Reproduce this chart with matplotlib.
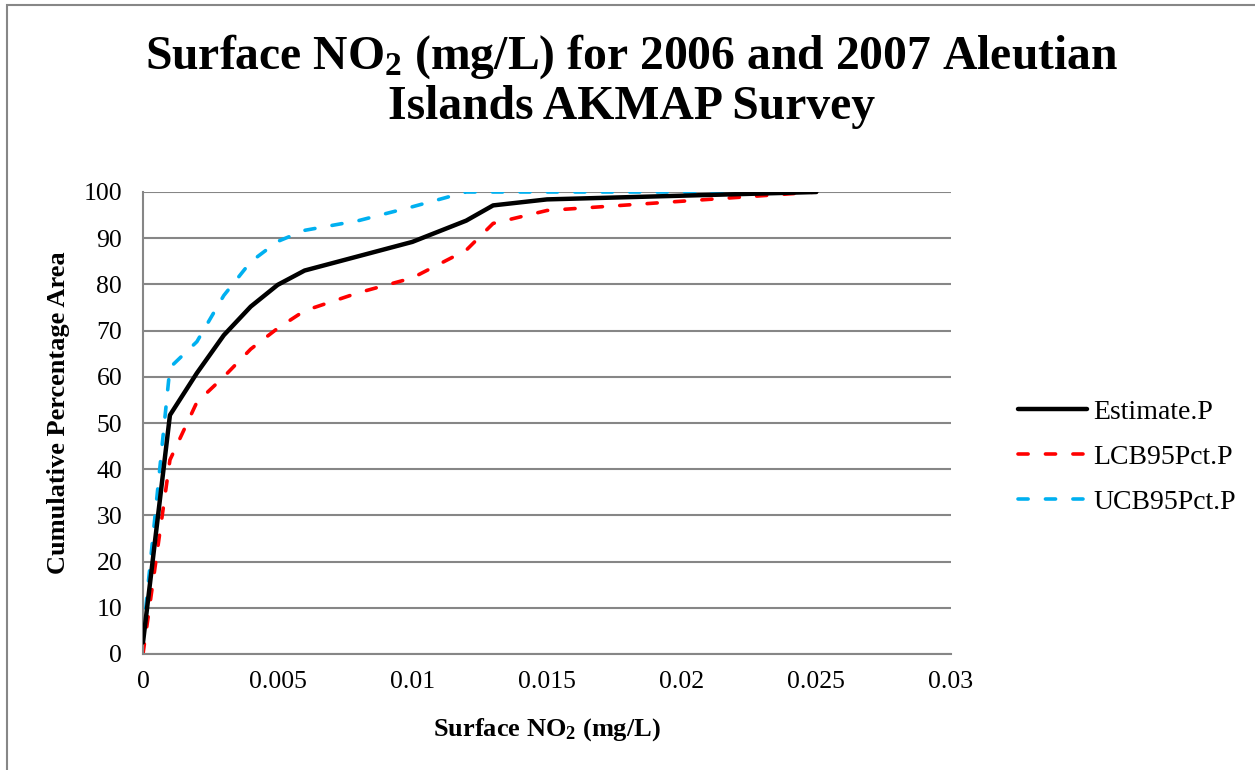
import matplotlib
matplotlib.use("Agg")
import matplotlib.pyplot as plt
from matplotlib.patches import Rectangle

plt.rcParams['font.family'] = ['Liberation Serif', 'DejaVu Serif']
plt.rcParams['mathtext.default'] = 'regular'

# values
est_x = [0, 0.001, 0.002, 0.003, 0.004, 0.005, 0.006, 0.010, 0.012, 0.013, 0.015, 0.020, 0.025]
est_y = [2.5, 51.7, 60.8, 69.0, 75.2, 79.9, 83.0, 89.2, 93.8, 97.1, 98.4, 99.2, 100]

lcb_x = [0, 0.001, 0.002, 0.003, 0.004, 0.005, 0.006, 0.008, 0.010, 0.012, 0.013, 0.015, 0.020, 0.025]
lcb_y = [0, 42.0, 54.5, 60.0, 66.0, 70.5, 74.3, 78.2, 81.4, 87.4, 93.2, 96.0, 98.0, 100]

ucb_x = [0, 0.001, 0.002, 0.003, 0.004, 0.005, 0.006, 0.008, 0.010, 0.012, 0.025]
ucb_y = [4.0, 62.0, 67.6, 77.6, 84.9, 89.3, 91.7, 93.8, 96.8, 100, 100]

x_ticks = [0, 0.005, 0.01, 0.015, 0.02, 0.025, 0.03]
x_tick_labels = ['0', '0.005', '0.01', '0.015', '0.02', '0.025', '0.03']
y_ticks = list(range(0, 101, 10))

grid_col = '#868686'

fig = plt.figure(figsize=(12.55, 7.7), dpi=100)
fig.patches.append(Rectangle((7 / 1255, -0.1), 1.2, 1 - 5 / 770 + 0.1, transform=fig.transFigure,
                             fill=False, edgecolor='#878787', linewidth=1.5))

ax = fig.add_axes([143 / 1255, 116 / 770, 808 / 1255, 462 / 770])

dash = (0, (2.8, 4.8))
ax.plot(est_x, est_y, color='black', lw=3.2, solid_capstyle='round', label='Estimate.P', zorder=3)
ax.plot(lcb_x, lcb_y, color='#FF0000', lw=2.6, linestyle=dash, dash_capstyle='round',
        label='LCB95Pct.P', zorder=2)
ax.plot(ucb_x, ucb_y, color='#00B0F0', lw=2.6, linestyle=dash, dash_capstyle='round',
        label='UCB95Pct.P', zorder=2)

ax.set_xlim(0, 0.03)
ax.set_ylim(0, 100)
ax.set_xticks(x_ticks)
ax.set_xticklabels(x_tick_labels)
ax.set_yticks(y_ticks)
ax.tick_params(axis='both', length=0, labelsize=18.5)
ax.tick_params(axis='y', pad=15)
ax.tick_params(axis='x', pad=12)
ax.grid(axis='y', color=grid_col, lw=1.5)
ax.set_axisbelow(True)
for s in ['top', 'right']:
    ax.spines[s].set_visible(False)
for s in ['left', 'bottom']:
    ax.spines[s].set_color(grid_col)
    ax.spines[s].set_linewidth(1.5)

ax.set_xlabel('Surface NO$_2$ (mg/L)', fontsize=19, fontweight='bold', labelpad=17)
ax.set_ylabel('Cumulative Percentage Area', fontsize=19, fontweight='bold', labelpad=9.5, y=0.522)

fig.text(632 / 1255, 1 - 57 / 770, 'Surface NO$_2$ (mg/L) for 2006 and 2007 Aleutian',
         ha='center', va='center', fontsize=34.3, fontweight='bold')
fig.text(632 / 1255, 1 - 107 / 770, 'Islands AKMAP Survey',
         ha='center', va='center', fontsize=34.3, fontweight='bold')

fig.legend(loc='center left', bbox_to_anchor=(993 / 1255, 1 - 457 / 770), frameon=False,
           fontsize=20, handlelength=2.5, handletextpad=0.2, labelspacing=0.7)

fig.savefig('out.png', dpi=100)
